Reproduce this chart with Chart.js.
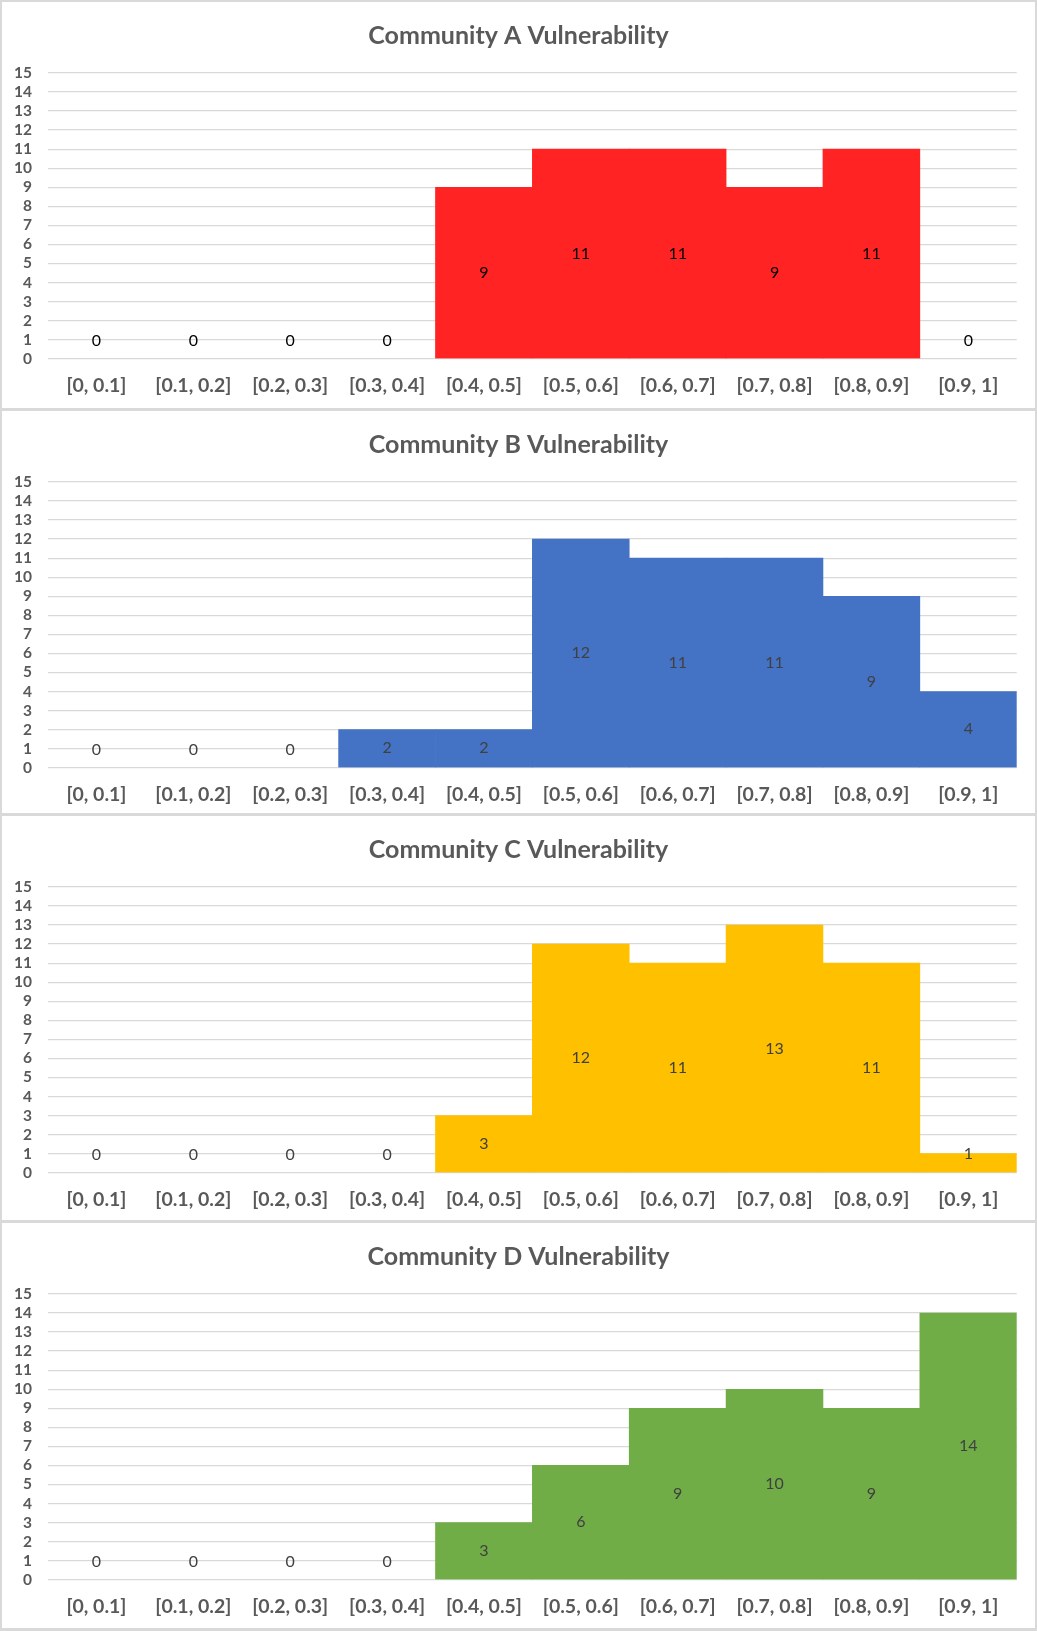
<!DOCTYPE html>
<html>
<head>
<meta charset="utf-8">
<title>Community Vulnerability</title>
<script src="https://cdn.jsdelivr.net/npm/chart.js@4.4.1/dist/chart.umd.min.js"></script>
<style>
  html, body { margin: 0; padding: 0; background: #ffffff; }
  #page { position: relative; width: 1037px; height: 1631px; overflow: hidden; }
  .panel {
    position: absolute; left: 0; width: 1037px; box-sizing: border-box;
    border: 3px solid #d9d9d9; border-bottom: none;
    border-left-width: 2px; border-right-width: 2px;
  }
  .panel.last { border-bottom: 3px solid #d9d9d9; }
  .panel canvas { display: block; }
</style>
</head>
<body>
<div id="page"></div>
<script>
// Vulnerability score bins shared by every community
const binLabels = ['[0, 0.1]', '[0.1, 0.2]', '[0.2, 0.3]', '[0.3, 0.4]', '[0.4, 0.5]',
                   '[0.5, 0.6]', '[0.6, 0.7]', '[0.7, 0.8]', '[0.8, 0.9]', '[0.9, 1]'];

// Counts per bin
const communityA = [0, 0, 0, 0, 9, 11, 11, 9, 11, 0];
const communityB = [0, 0, 0, 2, 2, 12, 11, 11, 9, 4];
const communityC = [0, 0, 0, 0, 3, 12, 11, 13, 11, 1];
const communityD = [0, 0, 0, 0, 3, 6, 9, 10, 9, 14];

const chartTitles = ['Community A Vulnerability', 'Community B Vulnerability',
                     'Community C Vulnerability', 'Community D Vulnerability'];

// Count axis
const yMin = 0;
const yMax = 15;
const yStep = 1;

const panels = [
  { title: chartTitles[0], data: communityA, color: '#ff2323', labelColor: '#000000', top: -1,   bottom: 408 },
  { title: chartTitles[1], data: communityB, color: '#4472c4', labelColor: '#404040', top: 408,  bottom: 813 },
  { title: chartTitles[2], data: communityC, color: '#ffc000', labelColor: '#404040', top: 813,  bottom: 1220 },
  { title: chartTitles[3], data: communityD, color: '#70ad47', labelColor: '#404040', top: 1220, bottom: 1631 }
];

const FONT = 'Lato, "Open Sans", sans-serif';
const TEXT_GREY = '#595959';
const GRID_GREY = '#d9d9d9';
const PLOT_BOTTOM = 356.7;   // distance from canvas top to the zero line

// Value labels centred in each bar; short bars keep their label clear of the axis
const barValueLabels = {
  id: 'barValueLabels',
  afterDatasetsDraw(chart, args, opts) {
    const ctx = chart.ctx;
    const meta = chart.getDatasetMeta(0);
    const values = chart.data.datasets[0].data;
    ctx.save();
    ctx.font = '16px ' + FONT;
    ctx.fillStyle = opts.color;
    ctx.textAlign = 'center';
    ctx.textBaseline = 'middle';
    meta.data.forEach((bar, i) => {
      const p = bar.getProps(['x', 'y', 'base'], true);
      const cy = Math.min((p.y + p.base) / 2, p.base - 18);
      ctx.fillText(String(values[i]), p.x, cy);
    });
    ctx.restore();
  }
};

const page = document.getElementById('page');

panels.forEach((cfg, idx) => {
  const last = idx === panels.length - 1;
  const div = document.createElement('div');
  div.className = 'panel' + (last ? ' last' : '');
  div.style.top = cfg.top + 'px';
  div.style.height = (cfg.bottom - cfg.top) + 'px';
  page.appendChild(div);

  const canvasH = cfg.bottom - cfg.top - 3 - (last ? 3 : 0);
  const canvas = document.createElement('canvas');
  canvas.width = 1033;
  canvas.height = canvasH;
  canvas.style.width = '1033px';
  canvas.style.height = canvasH + 'px';
  div.appendChild(canvas);

  new Chart(canvas, {
    type: 'bar',
    data: {
      labels: binLabels,
      datasets: [{
        data: cfg.data,
        // empty bins get no fill so no hairline shows on the axis
        backgroundColor: (c) => (c.raw === 0 ? 'rgba(0,0,0,0)' : cfg.color),
        borderWidth: 0,
        categoryPercentage: 1.0,
        barPercentage: 1.0
      }]
    },
    plugins: [barValueLabels],
    options: {
      responsive: false,
      animation: false,
      devicePixelRatio: 1,
      layout: { padding: 0 },
      plugins: {
        legend: { display: false },
        tooltip: { enabled: false },
        title: {
          display: true,
          text: cfg.title,
          color: TEXT_GREY,
          font: { family: FONT, size: 25, weight: 'bold', lineHeight: 1.2 },
          padding: { top: 18.5, bottom: 22.5 }
        },
        barValueLabels: { color: cfg.labelColor }
      },
      scales: {
        x: {
          grid: { display: false, drawTicks: false },
          border: { display: false },
          ticks: {
            color: TEXT_GREY,
            font: { family: FONT, size: 19.5, weight: 'bold', lineHeight: 1.2 },
            padding: 15.3,
            maxRotation: 0,
            autoSkip: false
          },
          afterFit(scale) { scale.height = canvasH - PLOT_BOTTOM; }
        },
        y: {
          min: yMin,
          max: yMax,
          grid: { color: GRID_GREY, lineWidth: 1.3, drawTicks: false },
          border: { display: false },
          ticks: {
            stepSize: yStep,
            autoSkip: false,
            color: TEXT_GREY,
            font: { family: FONT, size: 15.5, weight: 'bold' },
            padding: 16
          },
          afterFit(scale) { scale.width = 46; }
        },
        // blank right-hand margin so the plot stops short of the frame
        yRightMargin: {
          position: 'right',
          display: true,
          grid: { display: false, drawTicks: false },
          border: { display: false },
          ticks: { display: false },
          afterFit(scale) { scale.width = 18.3; }
        }
      }
    }
  });
});
</script>
</body>
</html>
